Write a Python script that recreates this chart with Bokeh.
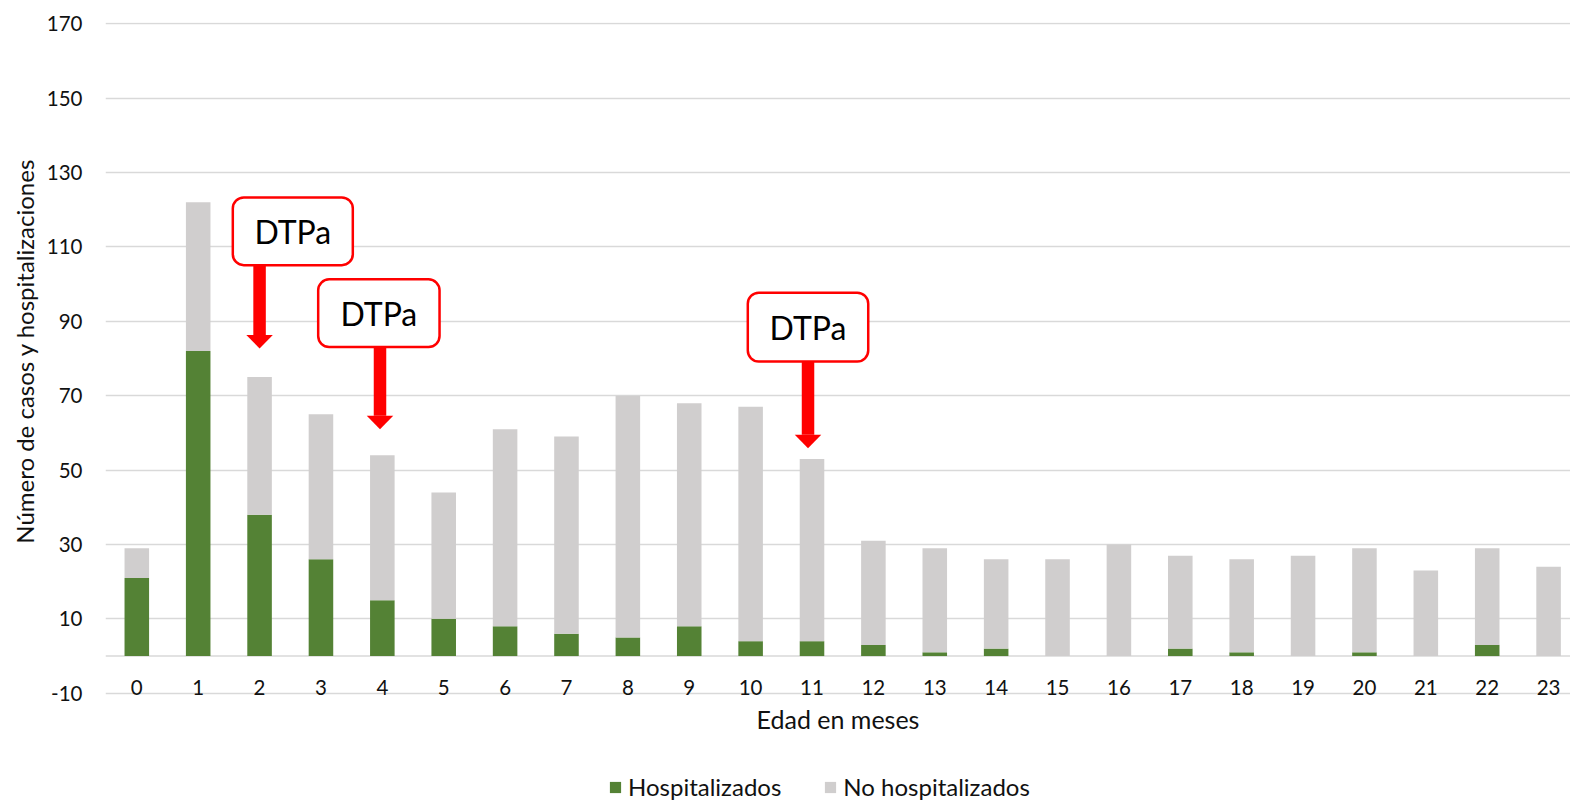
from bokeh.plotting import figure
from bokeh.models import (Range1d, FixedTicker, Span, Legend, LegendItem,
                          BoxAnnotation, ColumnDataSource, Title)
from bokeh.core.properties import value
from bokeh.embed import file_html
from bokeh.resources import INLINE

# ---- data ----
meses = list(range(24))
mes_labels = [str(m) for m in meses]
hospitalizados = [21, 82, 38, 26, 15, 10, 8, 6, 5, 8, 4, 4, 3, 1, 2, 0, 0, 2, 1, 0, 1, 0, 3, 0]
no_hospitalizados = [8, 40, 37, 39, 39, 34, 53, 53, 65, 60, 63, 49, 28, 28, 24, 26, 30, 25, 25, 27, 28, 23, 26, 24]
y_ticks = [-10, 10, 30, 50, 70, 90, 110, 130, 150, 170]
y_tick_labels = ["-10", "10", "30", "50", "70", "90", "110", "130", "150", "170"]

# annotations (DTPa boxes and arrows), in data units
box_left = [1.564, 2.955, 9.954]
box_right = [3.519, 4.932, 11.916]
box_top = [123.3, 101.3, 97.7]
box_bottom = [105.1, 83.1, 79.2]
arrow_x = [2.0, 3.962, 10.935]
arrow_tip = [82.7, 61.0, 55.9]
box_text = ["DTPa", "DTPa", "DTPa"]

FONT = "Lato"
GREEN = "#548235"
GREY = "#D0CECE"
GRID = "#D9D9D9"
RED = "#FF0000"
TXT = "#111111"

src = ColumnDataSource(dict(mes=meses, hosp=hospitalizados, nohosp=no_hospitalizados))

p = figure(width=1570, height=803,
           x_range=Range1d(-0.51, 23.357), y_range=Range1d(-39.65, 170.35),
           output_backend="svg", toolbar_location=None,
           min_border_left=105, min_border_right=0, min_border_top=22, min_border_bottom=0)
p.outline_line_color = None
p.background_fill_color = "white"

# grid
p.xgrid.grid_line_color = None
p.ygrid.ticker = FixedTicker(ticks=y_ticks)
p.ygrid.grid_line_color = GRID
p.ygrid.grid_line_width = 1.5

zero_line = Span(location=0, dimension="width", line_color=GRID, line_width=1.5, level="underlay")
p.add_layout(zero_line)

# y axis
p.yaxis.ticker = FixedTicker(ticks=y_ticks)
p.yaxis.major_label_overrides = {t: l for t, l in zip(y_ticks, y_tick_labels)}
p.yaxis.axis_line_color = None
p.yaxis.major_tick_line_color = None
p.yaxis.minor_tick_line_color = None
p.yaxis.major_tick_out = 0
p.yaxis.major_tick_in = 0
p.yaxis.major_label_standoff = 23
p.yaxis.major_label_text_font = FONT
p.yaxis.major_label_text_font_size = "20.5px"
p.yaxis.major_label_text_color = TXT

ytitle = Title(text="Número de casos y hospitalizaciones", align="right", offset=136,
               vertical_align="middle", text_font=FONT, text_font_size="24px",
               text_font_style="normal", text_color=TXT, standoff=8)
p.add_layout(ytitle, "left")

# x axis (placed at the -10 line inside the frame)
p.xaxis.fixed_location = -10.35
p.xaxis.ticker = FixedTicker(ticks=meses)
p.xaxis.major_label_overrides = {m: l for m, l in zip(meses, mes_labels)}
p.xaxis.axis_line_color = None
p.xaxis.major_tick_line_color = None
p.xaxis.minor_tick_line_color = None
p.xaxis.major_tick_out = 0
p.xaxis.major_tick_in = 0
p.xaxis.major_label_standoff = -15
p.xaxis.major_label_text_font = FONT
p.xaxis.major_label_text_font_size = "20.5px"
p.xaxis.major_label_text_color = TXT
p.xaxis.axis_label = "Edad en meses"
p.xaxis.axis_label_text_font = FONT
p.xaxis.axis_label_text_font_size = "25px"
p.xaxis.axis_label_text_font_style = "normal"
p.xaxis.axis_label_text_color = TXT
p.xaxis.axis_label_standoff = 6

# bars
rs = p.vbar_stack(["hosp", "nohosp"], x="mes", width=0.4, color=[GREEN, GREY],
                  line_color=None, source=src)

legend = Legend(items=[LegendItem(label="Hospitalizados", renderers=[rs[0]]),
                       LegendItem(label="No hospitalizados", renderers=[rs[1]])],
                orientation="horizontal", location=(503, 2),
                glyph_width=14, glyph_height=14, label_standoff=6, spacing=42,
                padding=0, margin=0, border_line_color=None, background_fill_alpha=0,
                label_text_font=FONT, label_text_font_size="24px", label_text_color=TXT)
p.add_layout(legend)

# annotations
head_half_w = 0.216
head_h = 3.63
for l, r, t, b in zip(box_left, box_right, box_top, box_bottom):
    p.add_layout(BoxAnnotation(left=l, right=r, top=t, bottom=b, fill_color="white",
                               fill_alpha=1.0, line_color=RED, line_alpha=1.0, line_width=2.5,
                               border_radius=11))

p.segment(x0=arrow_x, y0=box_bottom, x1=arrow_x, y1=[t + head_h for t in arrow_tip],
          line_color=RED, line_width=12.5, line_cap="butt")
p.patches(xs=[[x - head_half_w, x + head_half_w, x] for x in arrow_x],
          ys=[[t + head_h, t + head_h, t] for t in arrow_tip],
          fill_color=RED, line_color=None)

p.text(x=[(l + r) / 2 for l, r in zip(box_left, box_right)],
       y=[(t + b) / 2 for t, b in zip(box_top, box_bottom)],
       text=box_text, text_align="center", text_baseline="middle",
       text_font=value(FONT), text_font_size="32px", text_color="#000000",
       level="overlay")

open("out.html", "w").write(file_html(p, INLINE))
